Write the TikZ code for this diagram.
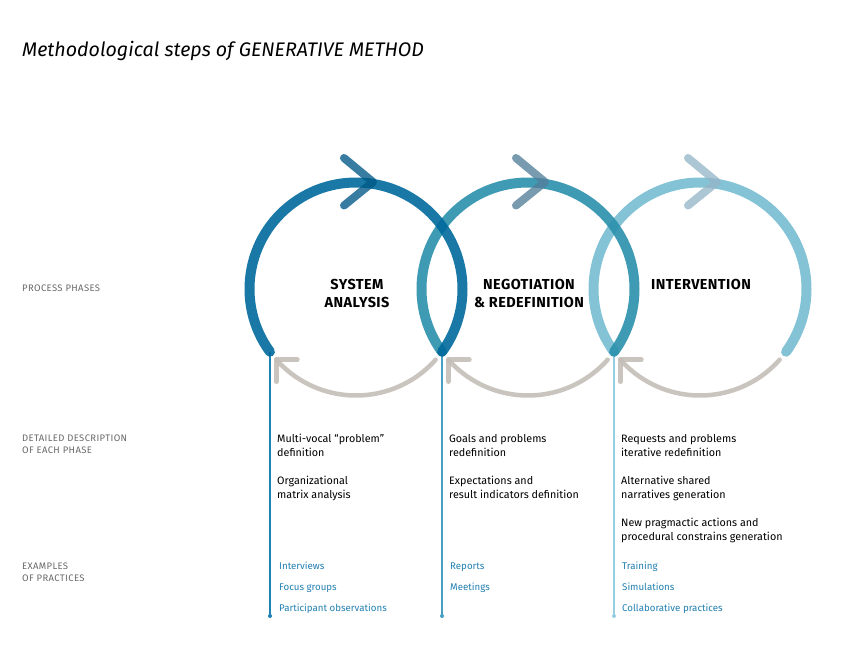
\documentclass[tikz,border=0pt]{standalone}
\usepackage{fontspec}
\setmainfont{Fira Sans}
\definecolor{cA}{RGB}{0,106,156}
\definecolor{cB}{RGB}{43,144,172}
\definecolor{cC}{RGB}{118,189,209}
\definecolor{kA}{RGB}{0,88,135}
\definecolor{kB}{RGB}{83,127,155}
\definecolor{kC}{RGB}{150,182,200}
\definecolor{gr}{RGB}{196,190,184}
\definecolor{lA}{RGB}{30,130,178}
\definecolor{lB}{RGB}{70,160,195}
\definecolor{lC}{RGB}{150,205,225}
\definecolor{exblue}{RGB}{35,128,178}
\definecolor{lblgray}{RGB}{105,105,105}
\begin{document}
\begin{tikzpicture}[x=1bp,y=-1bp,
  ring/.style={line width=10bp, line cap=round, opacity=0.9},
  chev/.style={line width=8bp, line cap=round, line join=round, opacity=0.78},
  back/.style={line width=4.5bp, line cap=round, line join=round, draw=gr, opacity=0.9},
  vline/.style={line width=1.3bp},
  lbl/.style={inner sep=0pt, anchor=base west, font=\fontsize{9.5}{12.5}\selectfont\addfontfeatures{LetterSpace=4}, text=lblgray, align=left},
  desc/.style={inner sep=0pt, anchor=base west, font=\fontsize{10.8}{14}\selectfont, text=black, align=left},
  ex/.style={inner sep=0pt, anchor=base west, font=\fontsize{9.75}{12}\selectfont, text=exblue},
  phase/.style={inner sep=0pt, anchor=base, font=\fontsize{14.5}{18}\selectfont\bfseries\addfontfeatures{LetterSpace=3}, align=center}
]
\useasboundingbox (0,0) rectangle (842,658);
\fill[white] (0,0) rectangle (842,658);

% title
\node[inner sep=0pt, anchor=base west, font=\fontsize{19.7}{22}\selectfont\itshape] (title) at (22,57) {Methodological steps of GENERATIVE METHOD};

% circle centres and junctions
\coordinate (c1) at (356,289);
\coordinate (c2) at (528,289);
\coordinate (c3) at (700,289);
\coordinate (j1) at (270,352);
\coordinate (j2) at (442,352);
\coordinate (j3) at (614,352);
\coordinate (d1) at (270,616);
\coordinate (d2) at (442,616);
\coordinate (d3) at (614,616);

% grey return arcs
\foreach \c in {c1,c2,c3}{
  \draw[back] (\c) ++(41.6:106.5) arc[start angle=41.6, end angle=138.4, radius=106.5];
  \draw[back] (\c) ++(138.4:106.5) ++(21,0) -- ++(-21,0) -- ++(0,22);
}

% vertical lines
\draw[vline, draw=lA] (j1) -- (d1);
\draw[vline, draw=lB] (j2) -- (d2);
\draw[vline, draw=lC] (j3) -- (d3);
\fill[lA] (d1) circle[radius=2];
\fill[lB] (d2) circle[radius=2];
\fill[lC] (d3) circle[radius=2];

% rings
\draw[ring, draw=cC] (c3) ++(143.9:106.5) arc[start angle=143.9, end angle=396.1, radius=106.5];
\draw[ring, draw=cB] (c2) ++(143.9:106.5) arc[start angle=143.9, end angle=396.1, radius=106.5];
\draw[ring, draw=cA] (c1) ++(143.9:106.5) arc[start angle=143.9, end angle=396.1, radius=106.5];

% top chevrons
\draw[chev, draw=kA] (c1) ++(-12,-131) -- ++(29,24) -- ++(-29,23.5);
\draw[chev, draw=kB] (c2) ++(-12,-131) -- ++(29,24) -- ++(-29,23.5);
\draw[chev, draw=kC] (c3) ++(-12,-131) -- ++(29,24) -- ++(-29,23.5);

% phase labels (base = last line)
\node[phase] (p1) at (357,307) {SYSTEM\\ANALYSIS};
\node[phase] (p2) at (529,307) {NEGOTIATION\\\& REDEFINITION};
\node[phase] (p3) at (701,289) {INTERVENTION};

% left labels
\node[lbl] (L1) at (22,291) {PROCESS PHASES};
\node[lbl] (L2) at (22,453.5) {DETAILED DESCRIPTION\\OF EACH PHASE};
\node[lbl] (L3) at (22,581.5) {EXAMPLES\\OF PRACTICES};

% descriptions
\node[desc] (a1) at (277,456) {Multi-vocal “problem”\\definition};
\node[desc] (a2) at (277,498) {Organizational\\matrix analysis};
\node[desc] (b1) at (449,456) {Goals and problems\\redefinition};
\node[desc] (b2) at (449,498) {Expectations and\\result indicators definition};
\node[desc] (e1) at (621,456) {Requests and problems\\iterative redefinition};
\node[desc] (e2) at (621,498) {Alternative shared\\narratives generation};
\node[desc] (e3) at (621,540) {New pragmactic actions and\\procedural constrains generation};

% examples
\node[ex] (x11) at (279,569) {Interviews};
\node[ex] (x12) at (279,590) {Focus groups};
\node[ex] (x13) at (279,611) {Participant observations};
\node[ex] (x21) at (450,569) {Reports};
\node[ex] (x22) at (450,590) {Meetings};
\node[ex] (x31) at (622,569) {Training};
\node[ex] (x32) at (622,590) {Simulations};
\node[ex] (x33) at (622,611) {Collaborative practices};
\end{tikzpicture}
\end{document}
